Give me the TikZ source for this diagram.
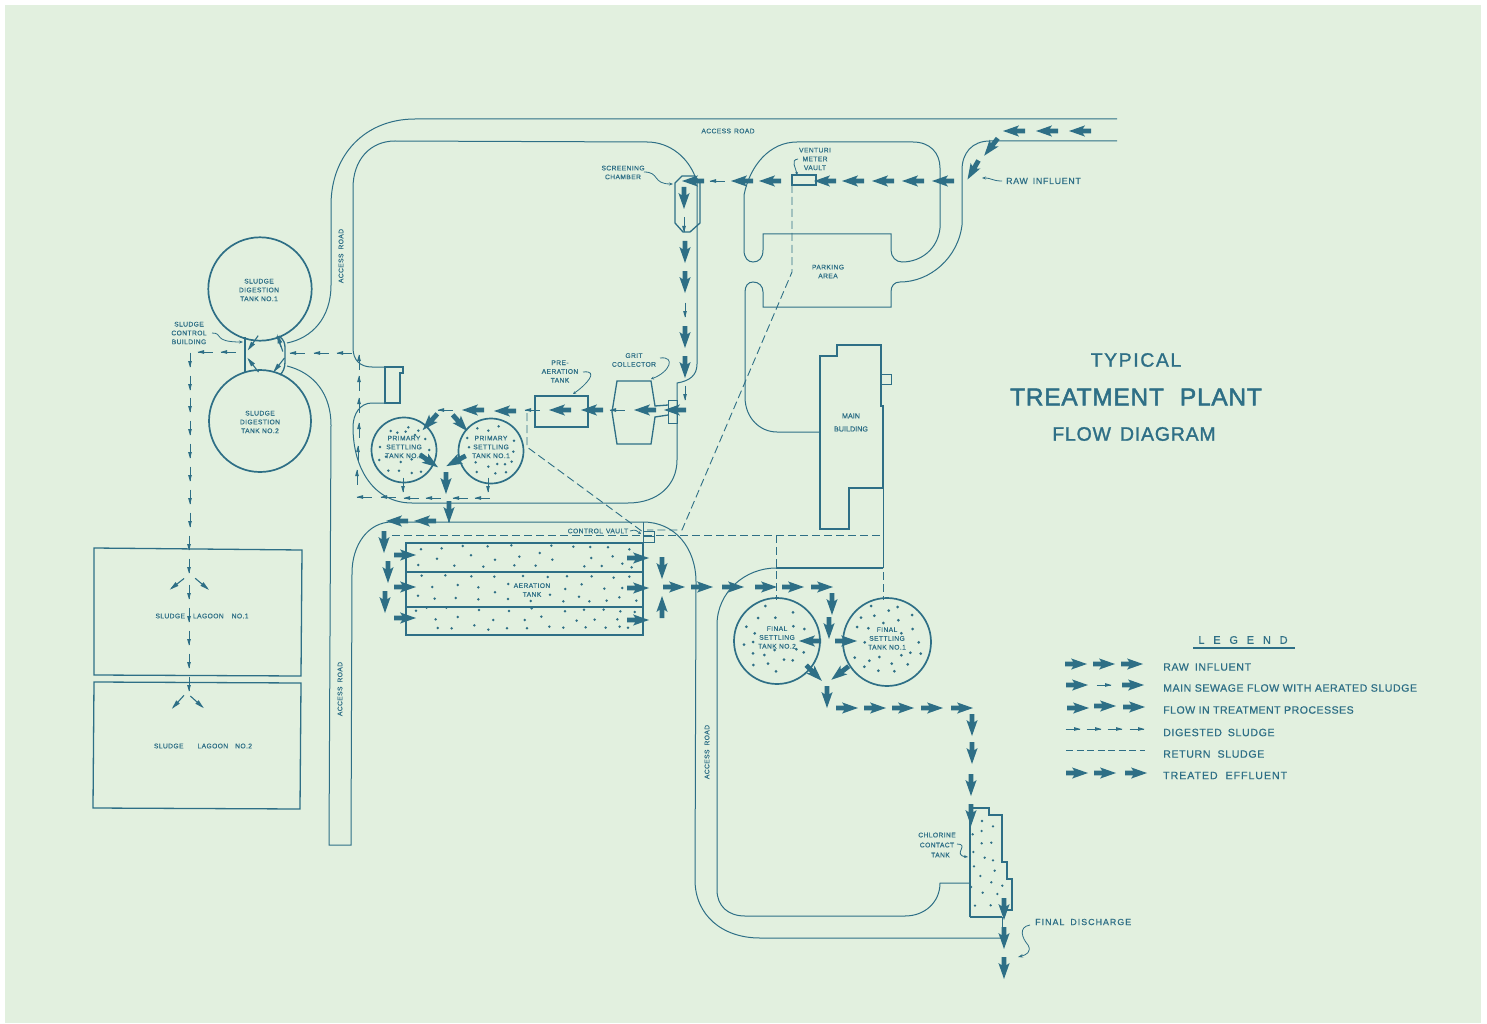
\documentclass[tikz,border=0pt]{standalone}
\usepackage{fontspec}
\usetikzlibrary{arrows.meta}
\setmainfont{Liberation Sans}
\definecolor{ink}{HTML}{2E6F86}
\definecolor{paper}{HTML}{E2F0DF}
\newcommand\fa[3]{\fill[ink,shift={(#1,#2)},rotate=#3] (-11,-2.4)--(-2.8,-2.4)--(-5,-5.6)--(11,0)--(-5,5.6)--(-2.8,2.4)--(-11,2.4)--cycle;}
\newcommand\sa[3]{\begin{scope}[shift={(#1,#2)},rotate=#3]\draw[ink,line width=.9pt] (-7.5,0)--(7,0);\fill[ink] (1,-1.9)--(7.5,0)--(1,1.9)--cycle;\end{scope}}
\newcommand\ma[3]{\begin{scope}[shift={(#1,#2)},rotate=#3]\draw[ink,line width=1.1pt] (-9,0)--(7,0);\fill[ink] (0,-2.4)--(9,0)--(0,2.4)--cycle;\end{scope}}
\newcommand\fsz[2]{\fontsize{#1}{#2}\selectfont}
\tikzset{
 road/.style={draw=ink,line width=1pt},
 wall/.style={draw=ink,line width=1.3pt},
 tank/.style={draw=ink,line width=1.7pt},
 ret/.style={draw=ink,line width=.9pt,dash pattern=on 8pt off 4pt},
 lead/.style={draw=ink,line width=.8pt},
 lab/.style={text=ink,inner sep=0pt,align=center,font=\fsz{6.7}{8.8}\addfontfeature{LetterSpace=6,FakeBold=0.5}},
 leg/.style={text=ink,inner sep=0pt,anchor=west,font=\fsz{10.6}{12}\addfontfeature{LetterSpace=6,FakeBold=0.7}},
 dot/.style={fill=ink}
}
\begin{document}
\begin{tikzpicture}[x=1pt,y=-1pt]
\useasboundingbox (0,0) rectangle (1487,1024);
\fill[white] (0,0) rectangle (1487,1024);
\fill[paper] (5,5) rectangle (1481,1023);
% roads
\draw[road] (1117,119) -- (415,119) .. controls (365,119) and (331,155) .. (331,205) -- (331,285) .. controls (331,318) and (312,338) .. (287,343);
\draw[road] (287,366) .. controls (315,373) and (331,395) .. (331,425) -- (329,845) -- (351,845) -- (352,573) .. controls (352,545) and (368,522) .. (392,522) -- (643,522) .. controls (675,522) and (696,548) .. (696,582) -- (695,880) .. controls (695,915) and (722,938) .. (760,938) -- (1003,938);
\draw[road] (647,142) -- (395,141) .. controls (370,141) and (353,160) .. (353,188) -- (353,348) .. controls (353,360) and (360,367) .. (372,367) -- (385,367);
\draw[road] (385,403) -- (372,403) .. controls (360,403) and (353,414) .. (353,427) .. controls (353,470) and (375,503) .. (412,503) -- (628,503) .. controls (658,503) and (677,485) .. (677,460) -- (677,383) .. controls (690,381) and (697,375) .. (697,364) -- (697,182) .. controls (690,158) and (670,142) .. (647,142);
\draw[road] (744,250) -- (744,195) .. controls (750,165) and (770,142) .. (797,142) -- (913,142) .. controls (930,142) and (940,153) .. (940,168) -- (940,228) .. controls (938,248) and (922,262) .. (902,262) .. controls (896,262) and (891,257) .. (891,250) -- (891,234) -- (763,234) -- (763,250) .. controls (763,258) and (759,262) .. (753,262) .. controls (748,262) and (744,258) .. (744,250);
\draw[road] (1117,141) -- (990,141) .. controls (972,141) and (962,153) .. (962,170) -- (962,225) .. controls (958,258) and (930,282) .. (900,282) .. controls (894,282) and (891,286) .. (891,292) -- (891,307) -- (763,307) -- (763,292) .. controls (763,286) and (759,282) .. (753,282) .. controls (748,282) and (745,286) .. (745,292) -- (745,397) .. controls (745,418) and (760,432) .. (777,432) -- (820,432);
\draw[road] (883,568) -- (776,568) .. controls (745,568) and (717,592) .. (717,625) -- (717,890) .. controls (717,906) and (728,916) .. (745,916) -- (905,916) .. controls (925,916) and (940,902) .. (940,883) -- (970,883);
\draw[road] (883,488) -- (883,568);
\draw[road] (643,522) -- (643,543);
\draw[road] (1002,917) -- (1002,938);
\draw[road,line width=1.4pt] (776,568) -- (883,568);
\draw[road,line width=1.4pt] (449,503) -- (449,522);
% buildings
\draw[wall] (385,367) -- (403,367) -- (403,373) -- (400,373) -- (400,403) -- (385,403) -- cycle;
\draw[wall] (820,529) -- (820,356) -- (837,356) -- (837,345) -- (881,345) -- (881,406) -- (883,406) -- (883,488) -- (849,488) -- (849,529) -- cycle;
\draw[wall,line width=1pt] (881,374) rectangle (891,384);
\draw[wall] (535,396) rectangle (588,427);
\draw[wall] (612,412) -- (617,381) -- (651,381) -- (655,406) -- (668,405);
\draw[wall] (612,412) -- (617,444) -- (651,444) -- (655,417) -- (668,415);
\draw[wall,line width=1pt] (668,400) rectangle (677,423);
\draw[wall] (675,183) -- (682,176) -- (695,176) -- (700,183) -- (700,223) -- (690,232) -- (683,232) -- (675,223) -- cycle;
\draw[wall] (792,175) rectangle (816,185);
\draw[wall,line width=1pt] (643,531) rectangle (654,542);
\draw[road] (643,536) -- (654,536);
% aeration tank
\draw[wall] (406,543) rectangle (643,635);
\draw[wall,line width=1.1pt] (406,572) -- (643,572);
\draw[wall,line width=1.1pt] (406,607) -- (643,607);
% chlorine
\draw[wall] (970,917) -- (970,808) -- (989,808) -- (989,815) -- (1002,815) -- (1002,862) -- (1007,862) -- (1007,879) -- (1012,879) -- (1012,910) -- (1003,910);
\draw[wall] (970,917) -- (1002,917);
% lagoons
\draw[wall] (94,548) -- (302,550) -- (301,676) -- (94,675) -- cycle;
\draw[wall] (94,682) -- (301,683) -- (300,809) -- (93,808) -- cycle;
% tanks
\draw[tank] (260,289) circle (51.7);
\draw[tank] (260,421) circle (51);
\draw[tank] (404,450) circle (32.5);
\draw[tank] (491,451) circle (32.5);
\draw[tank] (777,641) circle (43);
\draw[tank] (887,642) circle (44);
% control building
\draw[wall] (245,337) -- (245,373);
\draw[wall] (279,336) .. controls (284,340) and (285,343) .. (285,348) -- (285,362) .. controls (285,368) and (283,372) .. (280,375);
\draw[road] (277,336) -- (281,347);
% return sludge
\draw[ret] (792,185) -- (792,272) -- (682,530) -- (647,530);
\draw[ret] (392,535) -- (883,535) -- (883,600);
\draw[ret] (776,535) -- (776,600);
\draw[ret] (527,413) -- (527,447) -- (643,532);
% dots
\foreach \a/\b in {243/178,305/175,368/168,443/169,514/166,634/167,700/170,751/171,804/172,868/178,291/206,393/196,465/209,538/200,599/189,637/209,754/204,818/199,847/221,875/232,235/225,343/227,430/230,523/226,587/227,733/229,785/228,245/257,316/256,394/259,463/260,549/258,623/261,681/259,755/259,821/263,868/260,277/291,353/285,415/292,505/282,676/297,725/283,793/296,847/294,465/307,234/317,284/326,347/324,415/328,504/327,572/333,630/314,670/334,717/320,748/334,800/332,838/322,889/332,228/362,260/353,319/353,417/360,507/363,575/355,675/364,732/359,791/359,841/364,884/366,287/388,353/381,460/390,554/390,604/380,710/392,764/389,832/388,293/414,335/415,403/406,445/419,501/415,561/415,628/410,670/413,737/412,797/413,839/410,864/413}
  \fill[dot] ({340+\a/3},{490+\b/3}) circle (1.4);
\foreach \a/\b in {152/93,172/98,205/82,197/95,235/92,256/117,225/105,120/141,268/150,118/180,138/170,182/186,215/178,243/170,145/212,177/212,215/219,243/215,412/85,445/92,476/79,382/114,522/122,387/142,520/155,515/185,407/187,445/200,472/192,495/193,410/216,466/220,498/217}
  \fill[dot] ({340+\a/3},{400+\b/3}) circle (1.4);
\foreach \a/\b in {196/258,279/277,174/294,226/293,139/320,280/319,313/327,164/340,159/366,132/374,224/390,289/388,311/397,159/400,193/405,252/419,278/421,160/435,204/431,228/454,513/258,566/272,593/261,636/285,483/293,523/287,595/301,550/309,471/321,505/325,604/340,638/327,494/367,656/367,631/398,662/401,604/406,464/413,508/422,538/411,493/440,575/431,623/433,535/452,583/454}
  \fill[dot] ({700+\a/3},{520+\b/3}) circle (1.5);
\foreach \a/\b in {246/93,279/109,245/123,218/133,245/160,274/158,220/186,254/203,279/211,222/229,284/242,241/258,274/277,307/287,213/291,248/308,292/312,225/347,272/346}
  \fill[dot] ({900+\a/3},{790+\b/3}) circle (1.3);
% big arrows
\foreach \x/\y/\r in {1014/131/180,1047/131/180,1080/131/180,991/147/232,973/170/240,
 943/181/180,913/181/180,883/181/180,853/181/180,825/181/180,770/181/180,742/181/180,693/181/180,
 684/198/270,685/252/270,685/282/270,685/337/270,685/367/270,
 675/410/180,645/410/180,592/410/180,560/410/180,505/411/180,473/410/180,
 430/422/228,460/423/312,429/461/325,456/461/208,446/483/270,449/512/270,425/521/180,397/521/180,
 384/542/270,388/572/270,385/602/270,405/555/0,405/587/0,405/618/0,638/558/0,638/588/0,638/620/0,
 662/568/270,662/607/90,674/587/0,702/587/0,733/587/0,766/587/0,793/587/0,822/587/0,
 832/604/270,829/628/270,810/641/180,846/641/0,814/673/315,840/673/218,827/697/270,
 847/708/0,875/708/0,903/708/0,932/708/0,962/708/0,972/725/270,972/753/270,971/785/270,971/815/270,
 1004/909/270,1004/938/270,1004/968/270,
 1076/664/0,1104/664/0,1132/664/0,1077/685/0,1133/685/0,1078/708/0,1105/706/0,1134/707/0,1077/773/0,1105/773/0,1136/773/0}
 {\fa{\x}{\y}{\r}}
% small arrows
\foreach \x/\y/\r in {717/181/180,684/225/270,685/310/270,685/393/270,617/410/180,532/410/180,445/410/180,1104/685/0,
 344/353/180,321/353/180,297/353/180,228/352/180,205/352/180,
 190/360/270,190/383/270,190/405/270,190/428/270,190/451/270,190/474/270,190/497/270,190/520/270,189/543/270,189/566/270,189/592/270,189/615/270,189/638/270,189/661/270,189/684/270,
 359/362/90,359/383/90,359/405/90,359/430/90,358/453/90,357/477/90,
 364/497/180,388/497/180,411/498/180,433/498/180,460/498/180,482/498/180,
 403/485/270,488/485/270,
 1073/729/0,1094/729/0,1115/729/0,1137/729/0}
 {\sa{\x}{\y}{\r}}
\foreach \x/\y/\r in {177/584/218,202/584/320,178/702/228,197/702/318,253/343/235,253/365/128,280/343/108,279/365/232}
 {\ma{\x}{\y}{\r}}
% legend line
\draw[ink,line width=.9pt,dash pattern=on 7pt off 3.5pt] (1066,750.5) -- (1145,750.5);
\draw[ink,line width=1.2pt] (1193,648) -- (1295,648);
% leaders
\draw[lead,-{Stealth[length=4pt,width=3pt]}] (644,172) .. controls (660,172) and (652,184) .. (673,184);
\draw[lead,-{Stealth[length=3pt,width=3pt]}] (798,159) .. controls (790,160) and (796,168) .. (797,175);
\draw[lead,-{Stealth[length=3pt,width=3pt]}] (660,358) .. controls (676,356) and (670,372) .. (651,379);
\draw[lead,-{Stealth[length=3pt,width=3pt]}] (583,372) .. controls (600,370) and (586,385) .. (573,394);
\draw[lead,-{Stealth[length=4pt,width=3pt]}] (212,333) .. controls (224,333) and (212,342) .. (243,342);
\draw[lead,-{Stealth[length=4pt,width=3pt]}] (957,844) .. controls (970,844) and (952,855) .. (968,857);
\draw[lead,-{Stealth[length=3pt,width=3pt]}] (630,531) .. controls (636,529) and (637,531) .. (641,534);
\draw[lead,-{Stealth[length=4pt,width=3pt]}] (1002,181) .. controls (992,181) and (992,178) .. (982,178);
\draw[lead,-{Stealth[length=5pt,width=3.5pt]}] (1030,925) .. controls (1018,927) and (1022,938) .. (1028,945) .. controls (1032,952) and (1026,955) .. (1018,957);
% labels
\node[lab] (lroad1) at (728,131) {ACCESS\hspace{3pt}ROAD};
\node[lab,rotate=90] (lroad2) at (341,256) {ACCESS\hspace{4pt}ROAD};
\node[lab,rotate=90] (lroad3) at (340,689) {ACCESS\hspace{4pt}ROAD};
\node[lab,rotate=90] (lroad4) at (707,752) {ACCESS\hspace{4pt}ROAD};
\node[lab] (lscreen) at (623,172.5) {SCREENING\\CHAMBER};
\node[lab] (lvent) at (815,159) {VENTURI\\METER\\VAULT};
\node[lab] (lpark) at (828,271.5) {PARKING\\AREA};
\node[lab] (lgrit) at (634,360) {GRIT\\COLLECTOR};
\node[lab] (lpre) at (560,371.5) {PRE-\\AERATION\\TANK};
\node[lab,font=\fsz{7.2}{13}\addfontfeature{FakeBold=0.6}] (lmain) at (851,422.5) {MAIN\\BUILDING};
\node[lab] (ldig1) at (259,290) {SLUDGE\\DIGESTION\\TANK NO.1};
\node[lab] (ldig2) at (260,422) {SLUDGE\\DIGESTION\\TANK NO.2};
\node[lab] (lctrl) at (189,333) {SLUDGE\\CONTROL\\BUILDING};
\node[lab] (lp2) at (404,447) {PRIMARY\\SETTLING\\TANK NO.2};
\node[lab] (lp1) at (491,447) {PRIMARY\\SETTLING\\TANK NO.1};
\node[lab] (lvault) at (598,531) {CONTROL\hspace{3pt}VAULT};
\node[lab] (laer) at (532,590) {AERATION\\TANK};
\node[lab] (lf2) at (777,637.5) {FINAL\\SETTLING\\TANK NO.2};
\node[lab] (lf1) at (887,638.5) {FINAL\\SETTLING\\TANK NO.1};
\node[lab] (llag1) at (202,616) {SLUDGE\hspace{8pt}LAGOON\hspace{8pt}NO.1};
\node[lab] (llag2) at (203,746) {SLUDGE\hspace{14pt}LAGOON\hspace{7pt}NO.2};
\node[lab,font=\fsz{6.7}{10}\addfontfeature{LetterSpace=6,FakeBold=0.5}] (lchl) at (937,845) {CHLORINE\\CONTACT\\\hspace{7pt}TANK};
\node[leg,font=\fsz{8.8}{10}\addfontfeature{LetterSpace=8,FakeBold=0.6}] (lraw) at (1006,181) {RAW\hspace{5pt}INFLUENT};
\node[leg,font=\fsz{8.8}{10}\addfontfeature{LetterSpace=12,FakeBold=0.6}] (lfin) at (1035,922) {FINAL\hspace{6pt}DISCHARGE};
\node[text=ink,inner sep=0pt,font=\fsz{19.5}{22}\addfontfeature{LetterSpace=8,FakeBold=1}] (t1) at (1136,360) {TYPICAL};
\node[text=ink,inner sep=0pt,font=\fsz{24.5}{28}\addfontfeature{LetterSpace=3,FakeBold=2}] (t2) at (1136,397) {TREATMENT\hspace{16pt}PLANT};
\node[text=ink,inner sep=0pt,font=\fsz{19.5}{22}\addfontfeature{LetterSpace=4,FakeBold=1.4}] (t3) at (1134,434) {FLOW\hspace{9pt}DIAGRAM};
\node[text=ink,inner sep=0pt,font=\fsz{11}{12}\addfontfeature{LetterSpace=80,FakeBold=0.7}] (lleg) at (1243,640) {LEGEND};
\node[leg] (l1) at (1163,667) {RAW\hspace{6pt}INFLUENT};
\node[leg,font=\fsz{10.6}{12}\addfontfeature{LetterSpace=5,FakeBold=0.7}] (l2) at (1163,688) {MAIN SEWAGE FLOW WITH AERATED SLUDGE};
\node[leg,font=\fsz{10.6}{12}\addfontfeature{LetterSpace=4.3,FakeBold=0.7}] (l3) at (1163,710) {FLOW IN TREATMENT PROCESSES};
\node[leg] (l4) at (1163,732.5) {DIGESTED\hspace{6pt}SLUDGE};
\node[leg] (l5) at (1163,754) {RETURN\hspace{7pt}SLUDGE};
\node[leg,font=\fsz{10.6}{12}\addfontfeature{LetterSpace=9,FakeBold=0.7}] (l6) at (1163,775.5) {TREATED\hspace{8pt}EFFLUENT};
\end{tikzpicture}
\end{document}
